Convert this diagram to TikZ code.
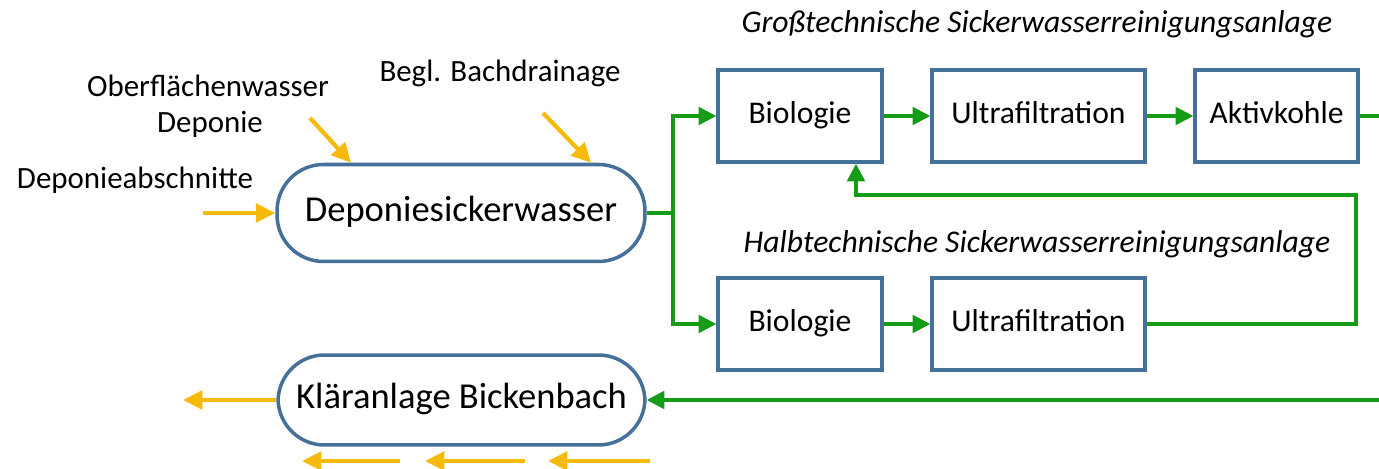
\documentclass[tikz,border=0pt]{standalone}
\usepackage{fontspec}
\setmainfont{Carlito}
\usetikzlibrary{arrows.meta,calc}
\definecolor{boxblue}{RGB}{68,112,154}
\definecolor{flowgreen}{RGB}{22,155,22}
\definecolor{flowyellow}{RGB}{246,186,10}
\tikzset{
  procbox/.style={draw=boxblue,line width=2pt,fill=white,minimum height=1.84cm,inner sep=0pt,text height=12pt,text depth=3.8pt,font=\fontsize{18}{20}\selectfont},
  roundbox/.style={draw=boxblue,line width=2pt,fill=white,rounded corners=0.93cm,inner sep=0pt,text height=13.8pt,text depth=4.4pt,font=\fontsize{20.8}{23}\selectfont},
  garrow/.style={draw=flowgreen,line width=1.9pt,-{Triangle[length=10pt,width=10pt]}},
  gline/.style={draw=flowgreen,line width=1.9pt},
  yarrow/.style={draw=flowyellow,line width=2.4pt,-{Triangle[length=11pt,width=10.5pt]}},
  lbl/.style={inner sep=0pt,font=\fontsize{17.6}{20}\selectfont},
  title/.style={inner sep=0pt,font=\fontsize{18}{20}\selectfont\itshape},
}
\begin{document}
\begin{tikzpicture}[x=0.02cm,y=-0.02cm]
\useasboundingbox (0,0) rectangle (1379,469);
% nodes
\node[roundbox,minimum width=7.36cm,minimum height=1.94cm] (dep) at (461,213) {Deponiesickerwasser};
\node[roundbox,minimum width=7.34cm,minimum height=1.8cm] (kl) at (461.5,400) {Kläranlage Bickenbach};
\node[procbox,minimum width=3.28cm] (bio1) at (800,116) {Biologie};
\node[procbox,minimum width=4.26cm] (uf1) at (1038.5,116) {Ultrafiltration};
\node[procbox,minimum width=3.26cm] (ak) at (1276.5,116) {Aktivkohle};
\node[procbox,minimum width=3.28cm] (bio2) at (800,324) {Biologie};
\node[procbox,minimum width=4.26cm] (uf2) at (1038.5,324) {Ultrafiltration};
% labels
\node[title] (t1) at (1037,24) {Großtechnische Sickerwasserreinigungsanlage};
\node[title] (t2) at (1037,244) {Halbtechnische Sickerwasserreinigungsanlage};
\node[lbl] (l1) at (208,86) {Oberflächenwasser};
\node[lbl] (l2) at (210,124) {Deponie};
\node[lbl] (l3) at (500,73) {Begl. Bachdrainage};
\node[lbl] (l4) at (135,180) {Deponieabschnitte};
% coordinates
\coordinate (ys1) at (203,213);
\coordinate (ys2) at (310,118);
\coordinate (ys3) at (543,113);
\coordinate (j) at (673,213);
\coordinate (out1) at (1379,116);
\coordinate (r) at (1356,195);
\coordinate (fb) at (856,195);
\coordinate (in2) at (1379,400);
\coordinate (ko) at (183,400);
\coordinate (b1s) at (400,461);
\coordinate (b1e) at (302,461);
\coordinate (b2s) at (525,461);
\coordinate (b2e) at (425,461);
\coordinate (b3s) at (650,461);
\coordinate (b3e) at (548,461);
% yellow
\draw[yarrow] (ys1) -- (dep.west);
\draw[yarrow] (ys2) -- ($(dep.north west)!0.204!(dep.north east)$);
\draw[yarrow] (ys3) -- ($(dep.north west)!0.85!(dep.north east)$);
\draw[yarrow] (kl.west) -- (ko);
\draw[yarrow] (b1s) -- (b1e);
\draw[yarrow] (b2s) -- (b2e);
\draw[yarrow] (b3s) -- (b3e);
% green
\draw[gline] (dep.east) -- (j);
\draw[garrow] (j) |- (bio1.west);
\draw[garrow] (j) |- (bio2.west);
\draw[garrow] (bio1) -- (uf1);
\draw[garrow] (uf1) -- (ak);
\draw[garrow] (bio2) -- (uf2);
\draw[gline] (ak.east) -- (out1);
\draw[garrow] (uf2.east) -| (r) -- (fb) -- (fb |- bio1.south);
\draw[garrow] (in2) -- (kl.east);
\end{tikzpicture}
\end{document}
